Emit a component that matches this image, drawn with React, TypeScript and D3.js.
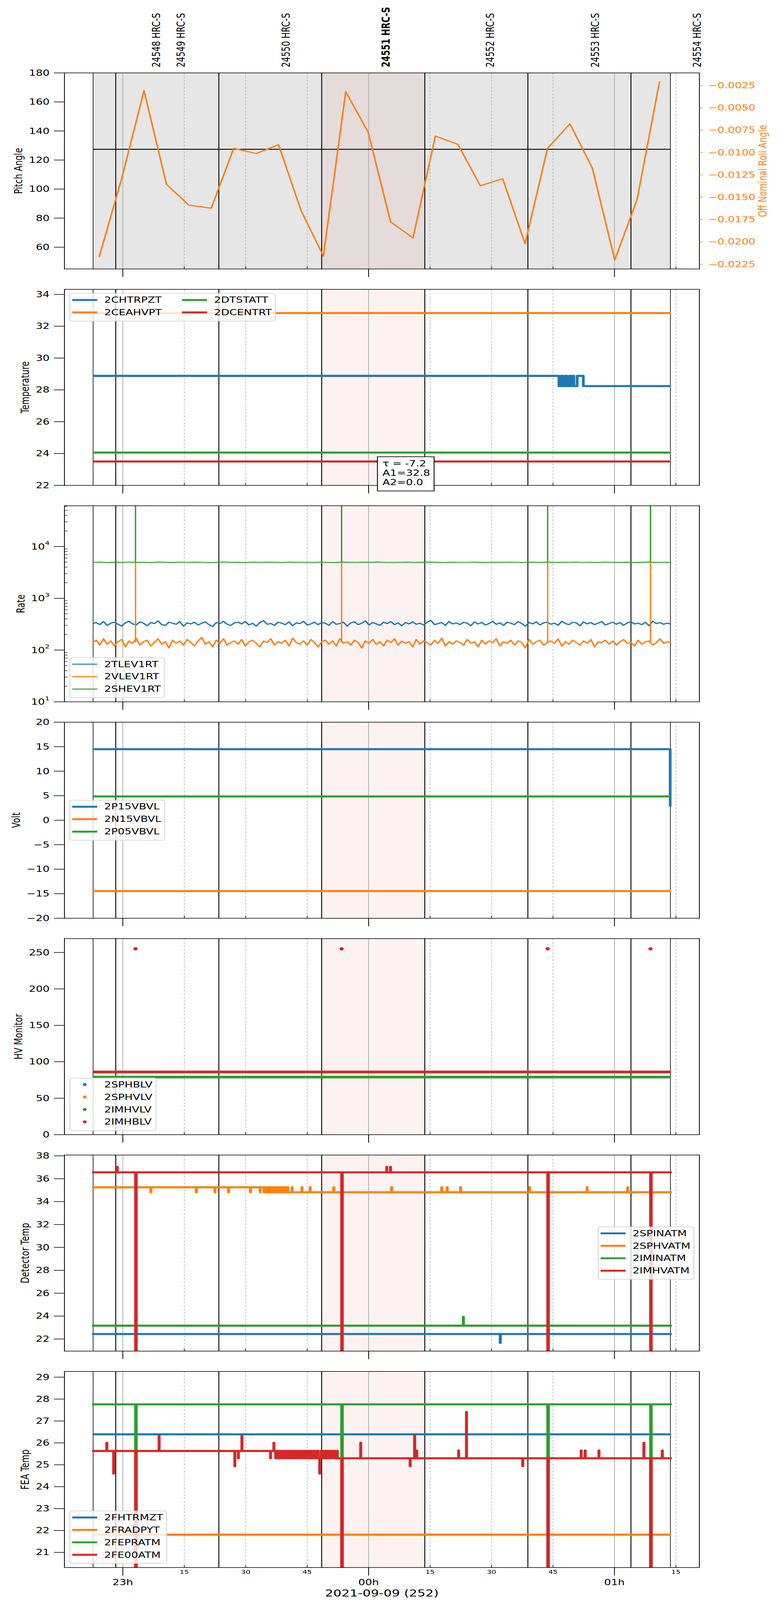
import { useEffect, useRef } from "react";
import * as d3 from "d3";

type Pt = [number, number];

// drawing is laid out on the 2000x5400 reference grid and fitted into the photographed area
const W = 2000;
const H = 5400;
const SHOT_H = 4096;
const FONT = "DejaVu Sans, Liberation Sans, sans-serif";
const FS = 27.8;
const C = { blue: "#1f77b4", orange: "#ff7f0e", green: "#2ca02c", red: "#d62728" };

// time is kept in minutes from 2021-09-09 00:00 UTC
const T0 = Date.UTC(2021, 8, 9);
const toDate = (m: number) => new Date(T0 + m * 60000);

const xWindow: Pt = [-74.25, 80.73];
const obsBounds = [-67.25, -61.72, -36.56, -11.46, 13.71, 38.87, 64.03, 73.65];
const obsIds = ["24548", "24549", "24550", "24551", "24552", "24553", "24554"];
const obsLabelAt = [-51.8, -45.8, -20.2, 4.2, 29.7, 55.3, 80.2];
const activeObs = "24551";
const activeSpan: Pt = [-11.46, 13.71];
const spikeTimes = [-56.9, -6.6, 43.7, 68.8];

// panel 1: pitch / off nominal roll
const pitchLevel = 127.4;
const rollTimes = [
  -65.76, -60.29, -54.82, -49.35, -43.88, -38.41, -32.93, -27.46, -21.99, -16.52, -11.05, -5.58, -0.11,
  5.36, 10.83, 16.3, 21.78, 27.25, 32.72, 38.19, 43.66, 49.13, 54.6, 60.07, 65.54, 71.01,
];
const rollValues = [
  -0.02168, -0.01293, -0.00308, -0.01356, -0.01589, -0.01623, -0.00953, -0.01012, -0.00912, -0.01647,
  -0.02159, -0.0032, -0.00773, -0.01776, -0.01956, -0.00816, -0.00908, -0.01372, -0.01294, -0.02022,
  -0.00953, -0.00679, -0.01174, -0.02202, -0.01524, -0.00203,
];
const pitchTicks = [60, 80, 100, 120, 140, 160, 180];
const rollTicks = [-0.0225, -0.02, -0.0175, -0.015, -0.0125, -0.01, -0.0075, -0.005, -0.0025];

// panel 2: temperature
const chtrpzt: Pt[] = [
  [-67.35, 28.88], [46.45, 28.24], [47.0, 28.88], [47.4, 28.24], [48.0, 28.88], [48.4, 28.24],
  [49.0, 28.88], [49.4, 28.24], [49.85, 28.88], [50.1, 28.24], [50.9, 28.88], [52.4, 28.24],
  [73.75, 28.24],
];
const ceahvpt: Pt[] = [[-67.35, 32.83], [73.75, 32.83]];
const dtstatt: Pt[] = [[-67.35, 24.06], [73.75, 24.06]];
const dcentrt: Pt[] = [[-67.35, 23.5], [73.75, 23.5]];
const tempTicks = [22, 24, 26, 28, 30, 32, 34];
const fitNote = ["\u03c4 = -7.2", "A1=32.8", "A2=0.0"];

// panel 3: rates (evenly sampled between rateSpan ends)
const rateSpan: Pt = [-67.38, 73.77];
const tlev1rt = [
  325, 340, 310, 355, 300, 330, 345, 315, 290, 335, 360, 320, 305, 350, 330, 295, 340, 325, 365, 310,
  300, 345, 330, 315, 355, 290, 335, 320, 345, 305, 330, 350, 310, 285, 340, 325, 360, 315, 300, 335,
  345, 320, 355, 305, 330, 290, 340, 370, 315, 325, 300, 345, 330, 310, 350, 295, 335, 325, 360, 305,
  320, 345, 310, 340, 330, 300, 355, 315, 325, 345, 290, 335, 350, 310, 330, 365, 305, 340, 320, 300,
  345, 325, 355, 310, 335, 295, 340, 320, 350, 315, 330, 305, 345, 375, 310, 325, 340, 300, 355, 320,
  335, 310, 345, 330, 295, 350, 320, 340, 305, 325, 360, 315, 335, 300, 345, 330, 310, 355, 325, 290,
  340, 320, 350, 305, 335, 345, 315, 330, 300, 360, 325, 310, 345, 335, 295, 350, 320, 340, 310, 330,
  355, 305, 325, 345, 315, 340, 300, 335, 350, 320, 330, 310, 345, 295, 360, 325, 340, 315, 330, 320,
];
const vlev1rt = [
  140, 155, 125, 165, 130, 150, 120, 145, 160, 115, 150, 135, 170, 125, 145, 155, 120, 140, 165, 130,
  145, 110, 155, 135, 150, 125, 160, 140, 120, 150, 175, 130, 145, 115, 155, 135, 165, 125, 140, 150,
  130, 160, 120, 145, 155, 135, 115, 150, 140, 165, 125, 145, 135, 155, 120, 170, 140, 130, 150, 125,
  160, 140, 115, 145, 155, 130, 150, 120, 165, 135, 145, 125, 155, 140, 110, 150, 135, 160, 130, 145,
  120, 155, 140, 165, 125, 150, 135, 145, 115, 160, 130, 150, 140, 125, 155, 135, 170, 120, 145, 130,
  150, 140, 125, 160, 135, 145, 115, 155, 130, 150, 140, 165, 120, 145, 135, 155, 125, 150, 140, 110,
  160, 130, 145, 155, 125, 140, 150, 135, 165, 120, 145, 130, 155, 140, 125, 150, 135, 160, 115, 145,
  140, 155, 130, 150, 125, 145, 160, 135, 140, 120, 155, 130, 145, 150, 125, 140, 165, 135, 145, 140,
];
const shev1rt = [
  4950, 5000, 4900, 4980, 4920, 5010, 4940, 4970, 4890, 5030, 4960, 4910, 4990, 4930, 5000, 4950, 4880, 4970, 5020, 4940,
  4960, 4900, 5000, 4930, 4980, 4950, 4910, 5010, 4940, 4970, 4920, 4990, 4950, 4890, 5000, 4960, 4930, 4980, 4940, 5020,
  4950, 4910, 4970, 4990, 4920, 4960, 5000, 4940, 4900, 4980, 4950, 4930, 5010, 4960, 4920, 4970, 4940, 4990, 4950, 4910,
  4980, 4940, 5000, 4920, 4960, 4950, 4990, 4930, 4970, 4900, 5010, 4950, 4940, 4980, 4920, 4960, 5000, 4940, 4970, 4950,
];
const vlevSpikeTop = 5000;
const shevSpikeTop = 1e6;

// panel 4: volt
const p15vbvl: Pt[] = [[-67.4, 14.5], [73.4, 14.5], [73.6, 2.8]];
const n15vbvl: Pt[] = [[-67.4, -14.45], [73.75, -14.45]];
const p05vbvl: Pt[] = [[-67.4, 4.85], [73.75, 4.85]];
const voltTicks = [-20, -15, -10, -5, 0, 5, 10, 15, 20];

// panel 5: HV monitor
const imhblv: Pt[] = [[-67.4, 86], [73.75, 86]];
const imhvlv: Pt[] = [[-67.4, 79], [73.75, 79]];
const imhblvHigh = 255;
const hvTicks = [0, 50, 100, 150, 200, 250];

// panel 6: detector temp
const spinatmLevels: Pt[] = [[-67.5, 22.43], [74.0, 22.43]];
const spinatmBlips: Pt[] = [[32.1, 21.67]];
const sphvatmLevels: Pt[] = [
  [-67.5, 35.25], [-25.54, 34.82], [-25.2, 35.25], [-24.85, 34.82], [-24.5, 35.25], [-24.15, 34.82],
  [-23.8, 35.25], [-23.45, 34.82], [-23.1, 35.25], [-22.75, 34.82], [-22.4, 35.25], [-22.05, 34.82],
  [-21.7, 35.25], [-21.35, 34.82], [-21.0, 35.25], [-20.65, 34.82], [-20.3, 35.25], [-19.95, 34.82],
  [-19.8, 35.25], [-19.7, 34.82], [74.0, 34.82],
];
const sphvatmBlips: Pt[] = [
  [-53.18, 34.82], [-42.08, 34.82], [-37.55, 34.82], [-34.22, 34.82], [-28.88, 34.82], [-26.5, 34.82],
  [-18.74, 35.25], [-16.3, 35.25], [-14.3, 35.25], [-8.52, 35.25], [5.58, 35.25], [17.8, 35.25],
  [19.14, 35.25], [22.42, 35.25], [39.26, 35.25], [53.3, 35.25], [63.2, 35.25],
];
const iminatmLevels: Pt[] = [[-67.5, 23.16], [74.0, 23.16]];
const iminatmBlips: Pt[] = [[23.09, 23.93]];
const imhvatmLevels: Pt[] = [[-67.5, 36.56], [74.0, 36.56]];
const imhvatmBlips: Pt[] = [[-61.38, 37.04], [4.4, 37.04], [5.3, 37.04]];
const detTicks = [22, 24, 26, 28, 30, 32, 34, 36, 38];

// panel 7: FEA temp
const fhtrmzt: Pt[] = [[-67.18, 26.39], [73.79, 26.39]];
const fradpyt: Pt[] = [[-67.18, 21.81], [73.79, 21.81]];
const fepratm: Pt[] = [[-67.5, 27.76], [74.0, 27.76]];
const fe00atmLevels: Pt[] = [
  [-67.5, 25.63], [-22.7, 25.3], [-22.3, 25.63], [-21.9, 25.3], [-21.5, 25.63], [-21.1, 25.3],
  [-20.7, 25.63], [-20.3, 25.3], [-19.9, 25.63], [-19.5, 25.3], [-19.1, 25.63], [-18.7, 25.3],
  [-18.3, 25.63], [-17.9, 25.3], [-17.5, 25.63], [-17.1, 25.3], [-16.7, 25.63], [-16.3, 25.3],
  [-15.9, 25.63], [-15.5, 25.3], [-15.1, 25.63], [-14.7, 25.3], [-14.3, 25.63], [-13.9, 25.3],
  [-13.5, 25.63], [-13.1, 25.3], [-12.7, 25.63], [-12.3, 25.3], [-11.6, 25.63], [-11.2, 25.3],
  [-10.8, 25.63], [-10.4, 25.3], [-10.0, 25.63], [-9.6, 25.3], [-9.2, 25.63], [-8.8, 25.3],
  [-8.4, 25.63], [-8.0, 25.3], [-7.7, 25.63], [-7.6, 25.3], [74.0, 25.3],
];
const fe00atmBlips: Pt[] = [
  [-63.93, 26.0], [-62.26, 24.6], [-51.17, 26.32], [-32.69, 24.94], [-31.83, 25.3], [-30.96, 26.32],
  [-23.97, 25.3], [-23.16, 26.0], [-11.96, 24.6], [-1.96, 26.0], [10.1, 24.94], [11.2, 26.34],
  [11.72, 25.65], [21.94, 25.65], [23.85, 27.41], [37.59, 24.94], [51.85, 25.65], [52.83, 25.65],
  [56.19, 25.65], [67.16, 26.0], [71.65, 25.65],
];
const feaTicks = [21, 22, 23, 24, 25, 26, 27, 28, 29];

const plotLeft = 165;
const plotRight = 1791;
const firstTop = 246;
const panelStep = 730.45;
const panelH = 661.7;

const minus = (s: string) => s.replace("-", "\u2212");

function withBlips(levels: Pt[], blips: Pt[], w = 0.06): Pt[] {
  const baseAt = (t: number) => {
    let v = levels[0][1];
    levels.forEach(([lt, lv]) => {
      if (lt <= t) v = lv;
    });
    return v;
  };
  const pts: Pt[] = levels.slice();
  blips.forEach(([t, v]) => {
    pts.push([t, v], [t + w, baseAt(t + w)]);
  });
  return pts.sort((a, b) => a[0] - b[0]);
}

export default function App() {
  const ref = useRef<SVGSVGElement>(null);

  useEffect(() => {
    document.body.style.margin = "0";
    const svg = d3.select(ref.current!);
    svg.selectAll("*").remove();

    const x = d3.scaleUtc().domain([toDate(xWindow[0]), toDate(xWindow[1])]).range([plotLeft, plotRight]);
    const xt = (m: number) => x(toDate(m));
    const hourTicks = x.ticks(d3.utcHour.every(1)!);
    const quarterTicks = x.ticks(d3.utcMinute.every(15)!).filter((d) => d.getUTCMinutes() !== 0);

    const box = (i: number) => {
      const top = firstTop + i * panelStep;
      return { top, bottom: top + panelH, mid: top + panelH / 2 };
    };

    // shading, grid and observation boundaries; returns the clipped data layer
    const background = (i: number, grey: boolean) => {
      const { top, bottom } = box(i);
      const g = svg.append("g");
      g.append("rect")
        .attr("x", xt(activeSpan[0]))
        .attr("y", top)
        .attr("width", xt(activeSpan[1]) - xt(activeSpan[0]))
        .attr("height", panelH)
        .attr("fill", C.red)
        .attr("fill-opacity", 0.06);
      if (grey) {
        g.append("rect")
          .attr("x", xt(obsBounds[0]))
          .attr("y", top)
          .attr("width", xt(obsBounds[obsBounds.length - 1]) - xt(obsBounds[0]))
          .attr("height", panelH)
          .attr("fill", "#808080")
          .attr("fill-opacity", 0.2);
      }
      hourTicks.forEach((d) => {
        g.append("line")
          .attr("x1", x(d)).attr("x2", x(d)).attr("y1", top).attr("y2", bottom)
          .attr("stroke", "#b0b0b0").attr("stroke-width", 2);
      });
      quarterTicks.forEach((d) => {
        g.append("line")
          .attr("x1", x(d)).attr("x2", x(d)).attr("y1", top).attr("y2", bottom)
          .attr("stroke", "#b0b0b0").attr("stroke-width", 1.5).attr("stroke-dasharray", "7,4.5");
      });
      obsBounds.forEach((t, k) => {
        const edge = k === 0 || k === obsBounds.length - 1;
        g.append("line")
          .attr("x1", xt(t)).attr("x2", xt(t)).attr("y1", top).attr("y2", bottom)
          .attr("stroke", "#000").attr("stroke-width", edge ? 1.6 : 2.3);
      });
      svg.append("clipPath").attr("id", `clip${i}`)
        .append("rect").attr("x", plotLeft).attr("y", top).attr("width", plotRight - plotLeft).attr("height", panelH);
      return svg.append("g").attr("clip-path", `url(#clip${i})`);
    };

    const path = (g: any, pts: Pt[], y: any, color: string, w: number, step = true) => {
      const line = d3.line<Pt>().x((d) => xt(d[0])).y((d) => y(d[1]));
      if (step) line.curve(d3.curveStepAfter);
      g.append("path")
        .attr("d", line(pts))
        .attr("fill", "none")
        .attr("stroke", color)
        .attr("stroke-width", w)
        .attr("stroke-linejoin", "round");
    };

    const axes = (
      i: number,
      y: any,
      ticks: number[],
      fmt: (v: number) => string,
      ylabel: string,
      labelX: number,
      log = false,
    ) => {
      const { top, bottom, mid } = box(i);
      const a = svg.append("g");
      a.append("rect")
        .attr("x", plotLeft).attr("y", top).attr("width", plotRight - plotLeft).attr("height", panelH)
        .attr("fill", "none").attr("stroke", "#000").attr("stroke-width", 2);
      ticks.forEach((v) => {
        a.append("line")
          .attr("x1", plotLeft - 27).attr("x2", plotLeft).attr("y1", y(v)).attr("y2", y(v))
          .attr("stroke", "#000").attr("stroke-width", 2);
        const t = a.append("text")
          .attr("x", plotLeft - 38).attr("y", y(v))
          .attr("text-anchor", "end").attr("dominant-baseline", "central")
          .attr("font-size", FS);
        if (log) {
          t.append("tspan").text("10");
          t.append("tspan").attr("dy", -12).attr("font-size", 19).text(String(Math.round(Math.log10(v))));
        } else {
          t.text(fmt(v));
        }
      });
      if (log) {
        const [lo, hi] = y.domain();
        for (let k = 1; k <= 4; k++) {
          for (let m = 2; m <= 9; m++) {
            const v = m * Math.pow(10, k);
            if (v < lo || v > hi) continue;
            a.append("line")
              .attr("x1", plotLeft).attr("x2", plotLeft + 8).attr("y1", y(v)).attr("y2", y(v))
              .attr("stroke", "#000").attr("stroke-width", 1.5);
          }
        }
      }
      hourTicks.forEach((d) => {
        a.append("line")
          .attr("x1", x(d)).attr("x2", x(d)).attr("y1", bottom).attr("y2", bottom + 27)
          .attr("stroke", "#000").attr("stroke-width", 2);
      });
      quarterTicks.forEach((d) => {
        a.append("line")
          .attr("x1", x(d)).attr("x2", x(d)).attr("y1", bottom - 9).attr("y2", bottom)
          .attr("stroke", "#000").attr("stroke-width", 1.5);
      });
      a.append("text")
        .attr("transform", `translate(${labelX},${mid}) rotate(-90)`)
        .attr("text-anchor", "middle").attr("dominant-baseline", "central")
        .attr("font-size", FS).text(ylabel);
    };

    type Entry = { label: string; color: string; dot?: boolean; w?: number };
    const legend = (i: number, loc: string, entries: Entry[], ncol = 1) => {
      const { top, bottom, mid } = box(i);
      const rows = Math.ceil(entries.length / ncol);
      const h = rows * 42 + 9;
      const g = svg.append("g");
      const frame = g.append("rect");
      let colX = 0;
      let width = 0;
      for (let c = 0; c < ncol; c++) {
        let maxW = 0;
        entries.slice(c * rows, c * rows + rows).forEach((e, r) => {
          const cy = 22 + r * 42;
          if (e.dot) {
            g.append("circle").attr("cx", colX + 38).attr("cy", cy).attr("r", 5).attr("fill", e.color);
          } else {
            g.append("line")
              .attr("x1", colX + 6).attr("x2", colX + 70).attr("y1", cy).attr("y2", cy)
              .attr("stroke", e.color).attr("stroke-width", e.w ?? 6.5);
          }
          const t = g.append("text")
            .attr("x", colX + 88).attr("y", cy)
            .attr("dominant-baseline", "central").attr("font-size", FS).text(e.label);
          maxW = Math.max(maxW, (t.node() as SVGTextElement).getComputedTextLength());
        });
        width = colX + 88 + maxW + 9;
        colX = colX + 88 + maxW + 46;
      }
      frame.attr("width", width).attr("height", h).attr("rx", 5)
        .attr("fill", "#fff").attr("fill-opacity", 0.8)
        .attr("stroke", "#d0d0d0").attr("stroke-width", 2);
      const pad = 14;
      const x0 = loc.includes("right") ? plotRight - pad - width : plotLeft + pad;
      const y0 = loc.startsWith("upper") ? top + pad : loc.startsWith("lower") ? bottom - pad - h : mid - h / 2;
      g.attr("transform", `translate(${x0},${y0})`);
    };

    const num = (v: number) => minus(String(v));

    // observation labels
    obsIds.forEach((id, k) => {
      const lx = xt(obsLabelAt[k]);
      svg.append("text")
        .attr("transform", `translate(${lx},227) rotate(-90)`)
        .attr("dominant-baseline", "central")
        .attr("font-size", FS)
        .attr("font-weight", id === activeObs ? "bold" : "normal")
        .text(`${id} HRC-S`);
    });

    // ---- panel 1
    {
      const { top, bottom, mid } = box(0);
      const y = d3.scaleLinear().domain([45, 180]).range([bottom, top]);
      const yr = d3.scaleLinear().domain([-0.02303, -0.00109]).range([bottom, top]);
      const g = background(0, true);
      path(g, [[obsBounds[0], pitchLevel], [obsBounds[obsBounds.length - 1], pitchLevel]], y, "#000", 3);
      const rollPts: Pt[] = rollTimes.map((t, k) => [t, rollValues[k]]);
      path(g, rollPts, yr, C.orange, 4, false);
      axes(0, y, pitchTicks, num, "Pitch Angle", 47);
      const a = svg.append("g");
      rollTicks.forEach((v) => {
        a.append("line")
          .attr("x1", plotRight).attr("x2", plotRight + 9).attr("y1", yr(v)).attr("y2", yr(v))
          .attr("stroke", C.orange).attr("stroke-width", 2);
        a.append("text")
          .attr("x", plotRight + 23).attr("y", yr(v))
          .attr("dominant-baseline", "central").attr("font-size", FS).attr("fill", C.orange)
          .text(minus(v.toFixed(4)));
      });
      a.append("text")
        .attr("transform", `translate(1953,${mid}) rotate(-90)`)
        .attr("text-anchor", "middle").attr("dominant-baseline", "central")
        .attr("font-size", FS).attr("fill", C.orange).text("Off Nominal Roll Angle");
    }

    // ---- panel 2
    {
      const { top, bottom } = box(1);
      const y = d3.scaleLinear().domain([22, 34.32]).range([bottom, top]);
      const g = background(1, false);
      path(g, chtrpzt, y, C.blue, 7);
      path(g, ceahvpt, y, C.orange, 7);
      path(g, dtstatt, y, C.green, 7);
      path(g, dcentrt, y, C.red, 7);
      axes(1, y, tempTicks, num, "Temperature", 64);
      legend(1, "upper left", [
        { label: "2CHTRPZT", color: C.blue },
        { label: "2CEAHVPT", color: C.orange },
        { label: "2DTSTATT", color: C.green },
        { label: "2DCENTRT", color: C.red },
      ], 2);
      const nx = plotLeft + 0.493 * (plotRight - plotLeft);
      const ng = svg.append("g");
      ng.append("rect")
        .attr("x", nx).attr("y", bottom - 96.6).attr("width", 145).attr("height", 115.4)
        .attr("fill", "#fff").attr("stroke", "#000").attr("stroke-width", 2.2);
      fitNote.forEach((s, k) => {
        ng.append("text")
          .attr("x", nx + 13).attr("y", bottom - 73.7 + k * 31.6)
          .attr("dominant-baseline", "central").attr("font-size", FS).text(s);
      });
    }

    // ---- panel 3
    {
      const { top, bottom } = box(2);
      const y = d3.scaleLog().domain([10, 61400]).range([bottom, top]);
      const g = background(2, false);
      const noisy = (vals: number[], color: string, w: number) => {
        const ti = d3.scaleLinear().domain([0, vals.length - 1]).range(rateSpan);
        const pts: Pt[] = vals.map((v, k) => [ti(k), v]);
        path(g, pts, y, color, w, false);
      };
      noisy(tlev1rt, C.blue, 4);
      noisy(vlev1rt, C.orange, 4);
      noisy(shev1rt, C.green, 3.2);
      spikeTimes.forEach((t) => {
        path(g, [[t, 140], [t, vlevSpikeTop]], y, C.orange, 3.5, false);
        path(g, [[t, 4950], [t, shevSpikeTop]], y, C.green, 3.5, false);
      });
      axes(2, y, [10, 100, 1000, 10000], num, "Rate", 53, true);
      legend(2, "lower left", [
        { label: "2TLEV1RT", color: C.blue, w: 3.5 },
        { label: "2VLEV1RT", color: C.orange, w: 3.5 },
        { label: "2SHEV1RT", color: C.green, w: 3.5 },
      ]);
    }

    // ---- panel 4
    {
      const { top, bottom } = box(3);
      const y = d3.scaleLinear().domain([-20, 20]).range([bottom, top]);
      const g = background(3, false);
      path(g, p15vbvl, y, C.blue, 7);
      path(g, n15vbvl, y, C.orange, 7);
      path(g, p05vbvl, y, C.green, 7);
      axes(3, y, voltTicks, num, "Volt", 41);
      legend(3, "center left", [
        { label: "2P15VBVL", color: C.blue },
        { label: "2N15VBVL", color: C.orange },
        { label: "2P05VBVL", color: C.green },
      ]);
    }

    // ---- panel 5
    {
      const { top, bottom } = box(4);
      const y = d3.scaleLinear().domain([0, 269]).range([bottom, top]);
      const g = background(4, false);
      path(g, imhvlv, y, C.green, 9);
      path(g, imhblv, y, C.red, 9);
      spikeTimes.forEach((t) => {
        g.append("circle").attr("cx", xt(t)).attr("cy", y(imhblvHigh)).attr("r", 5.5).attr("fill", C.red);
      });
      axes(4, y, hvTicks, num, "HV Monitor", 47);
      legend(4, "lower left", [
        { label: "2SPHBLV", color: C.blue, dot: true },
        { label: "2SPHVLV", color: C.orange, dot: true },
        { label: "2IMHVLV", color: C.green, dot: true },
        { label: "2IMHBLV", color: C.red, dot: true },
      ]);
    }

    // ---- panel 6
    {
      const { top, bottom } = box(5);
      const y = d3.scaleLinear().domain([20.94, 38.07]).range([bottom, top]);
      const g = background(5, false);
      const drops: Pt[] = spikeTimes.map((t) => [t, -50]);
      path(g, withBlips(spinatmLevels, spinatmBlips), y, C.blue, 7);
      path(g, withBlips(sphvatmLevels, sphvatmBlips), y, C.orange, 7);
      path(g, withBlips(iminatmLevels, iminatmBlips), y, C.green, 7);
      path(g, withBlips(withBlips(imhvatmLevels, drops, 0.2), imhvatmBlips), y, C.red, 7);
      axes(5, y, detTicks, num, "Detector Temp", 64);
      legend(5, "center right", [
        { label: "2SPINATM", color: C.blue },
        { label: "2SPHVATM", color: C.orange },
        { label: "2IMINATM", color: C.green },
        { label: "2IMHVATM", color: C.red },
      ]);
    }

    // ---- panel 7
    {
      const { top, bottom } = box(6);
      const y = d3.scaleLinear().domain([20.31, 29.26]).range([bottom, top]);
      const g = background(6, false);
      const drops: Pt[] = spikeTimes.map((t) => [t, -50]);
      path(g, fhtrmzt, y, C.blue, 7);
      path(g, fradpyt, y, C.orange, 7);
      path(g, withBlips(fepratm, drops, 0.2), y, C.green, 7);
      path(g, withBlips(withBlips(fe00atmLevels, drops, 0.2), fe00atmBlips), y, C.red, 7);
      axes(6, y, feaTicks, num, "FEA Temp", 64);
      legend(6, "lower left", [
        { label: "2FHTRMZT", color: C.blue },
        { label: "2FRADPYT", color: C.orange },
        { label: "2FEPRATM", color: C.green },
        { label: "2FE00ATM", color: C.red },
      ]);
      const fmtH = d3.utcFormat("%Hh");
      const fmtM = d3.utcFormat("%M");
      const a = svg.append("g");
      hourTicks.forEach((d) => {
        a.append("text")
          .attr("x", x(d)).attr("y", bottom + 50)
          .attr("text-anchor", "middle").attr("dominant-baseline", "central")
          .attr("font-size", FS).text(fmtH(d));
      });
      quarterTicks.forEach((d) => {
        a.append("text")
          .attr("x", x(d)).attr("y", bottom + 15)
          .attr("text-anchor", "middle").attr("dominant-baseline", "central")
          .attr("font-size", 18.5).text(fmtM(d));
      });
      a.append("text")
        .attr("x", (plotLeft + plotRight) / 2).attr("y", bottom + 87)
        .attr("text-anchor", "middle").attr("dominant-baseline", "central")
        .attr("font-size", 33).text("2021-09-09 (252)");
    }
  }, []);

  return (
    <svg
      ref={ref}
      width={W}
      height={SHOT_H}
      viewBox={`0 0 ${W} ${H}`}
      preserveAspectRatio="none"
      style={{ display: "block", fontFamily: FONT, background: "#fff" }}
    />
  );
}
